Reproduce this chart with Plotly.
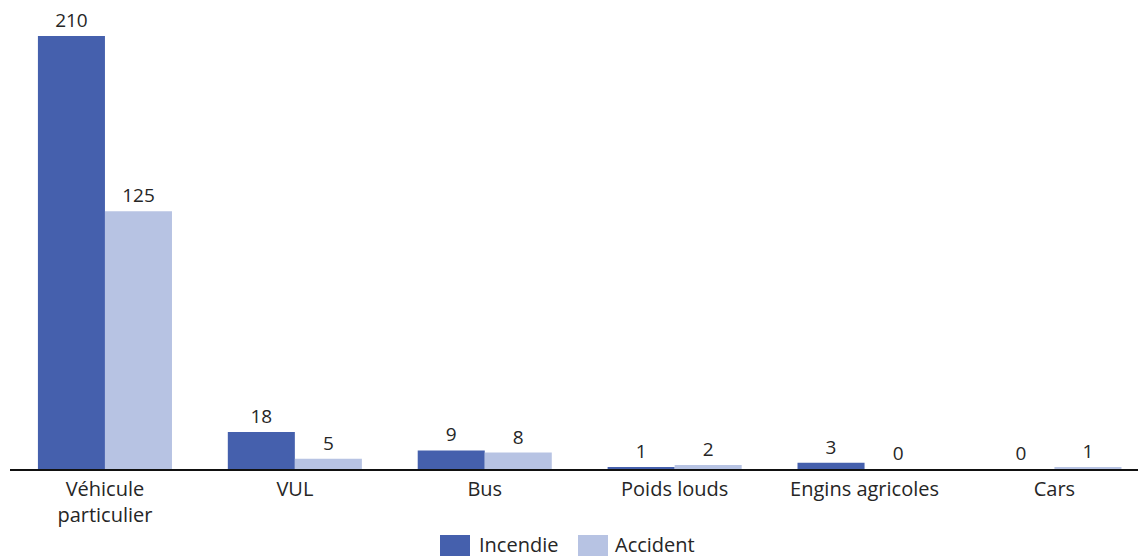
import plotly.graph_objects as go

categories = ["Véhicule<br>particulier", "VUL", "Bus", "Poids louds", "Engins agricoles", "Cars"]
series_names = ["Incendie", "Accident"]
incendie = [210, 18, 9, 1, 3, 0]
accident = [125, 5, 8, 2, 0, 1]

dark = "#4560ad"
light = "#b7c3e3"
font_family = "Open Sans, Lato, sans-serif"
txt = "#262626"

fig = go.Figure()
for name, vals, col in [(series_names[0], incendie, dark), (series_names[1], accident, light)]:
    fig.add_trace(go.Bar(name=name, x=categories, y=vals, marker_color=col,
                         marker_line_width=0, text=[str(v) for v in vals],
                         textposition="outside", cliponaxis=False,
                         textfont=dict(size=19, color=txt, family=font_family)))

# plot area geometry (pixels)
L, W, AX = 10, 1128, 469

def px(x):
    return (x - L) / W

def py(y):
    return (AX - y) / AX

# custom legend with larger swatches
legend_items = [(series_names[0], dark, 440, 470, 477), (series_names[1], light, 578, 608, 613)]
shapes = []
annotations = []
for name, col, x0, x1, tx in legend_items:
    shapes.append(dict(type="rect", xref="paper", yref="paper",
                       x0=px(x0), x1=px(x1), y0=py(556), y1=py(535),
                       fillcolor=col, line_width=0))
    annotations.append(dict(xref="paper", yref="paper", x=px(tx), y=py(544),
                            xanchor="left", yanchor="middle", showarrow=False,
                            text=name, font=dict(size=20, color=txt, family=font_family)))

fig.update_layout(
    width=1138, height=557,
    margin=dict(l=L, r=0, t=0, b=557 - AX, autoexpand=False),
    barmode="group", bargap=0.294, bargroupgap=0,
    plot_bgcolor="white", paper_bgcolor="white",
    font=dict(family=font_family, size=20, color=txt),
    showlegend=False,
    shapes=shapes, annotations=annotations,
    xaxis=dict(range=[-0.5, 5.44], showline=True, linecolor="#111111", linewidth=1.5,
               ticks="", showgrid=False, ticklabelstandoff=1,
               tickfont=dict(size=20, color=txt)),
    yaxis=dict(range=[0, 227.4], visible=False, showgrid=False, zeroline=False),
)

fig.write_html("out.html")
